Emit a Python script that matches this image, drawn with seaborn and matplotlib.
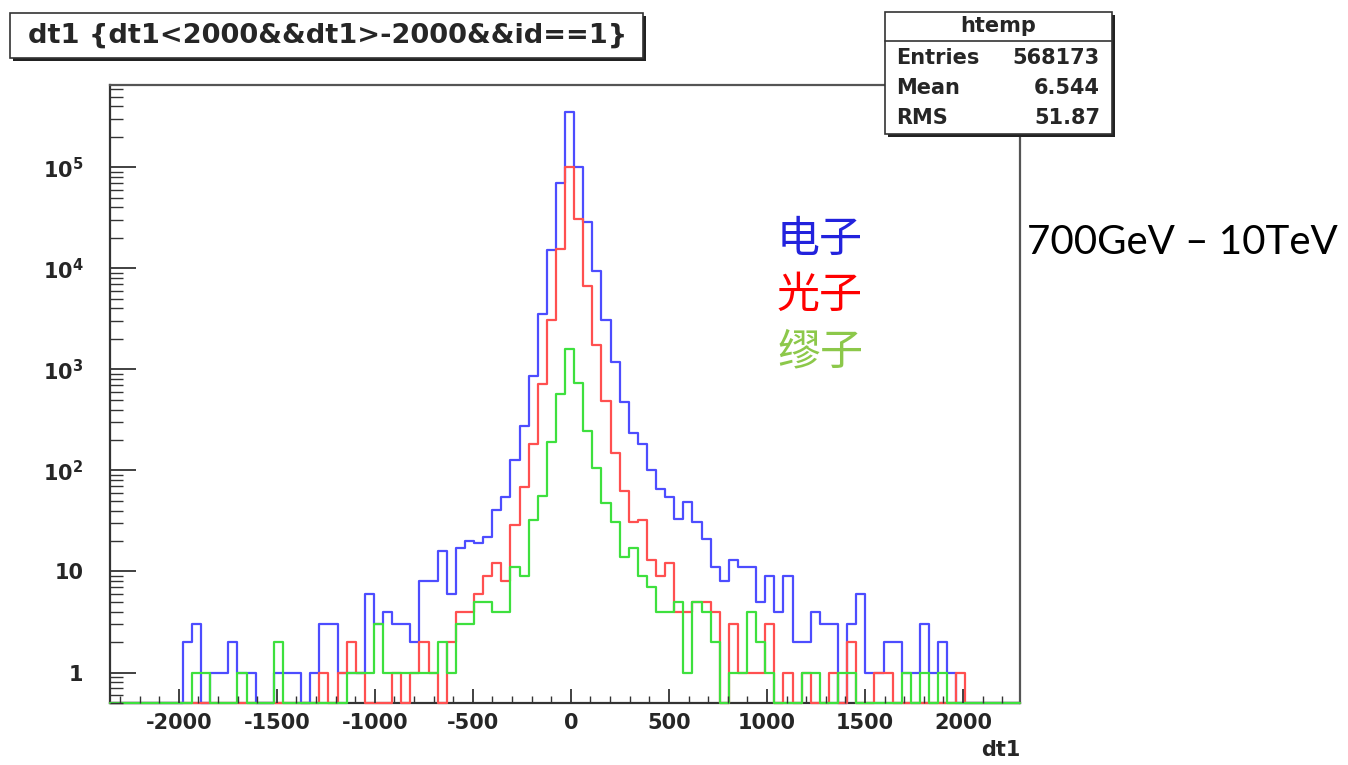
import numpy as np
import pandas as pd
import matplotlib
matplotlib.use("Agg")
import matplotlib.pyplot as plt
from matplotlib.patches import Rectangle
from matplotlib.ticker import FixedLocator, MultipleLocator, NullFormatter
import seaborn as sns

# histogram binning (htemp: 100 bins)
X_MIN, X_MAX, N_BINS = -2351.0, 2291.0, 100
Y_MIN, Y_MAX = 0.5, 6.5e5

# counts per bin (bins 0..99)
electron = [
    0, 0, 0, 0, 0, 0, 0, 0, 2, 3,
    0, 1, 1, 2, 1, 1, 0, 0, 1, 1,
    1, 0, 1, 3, 3, 1, 1, 1, 6, 3,
    4, 3, 3, 2, 8, 8, 16, 6, 17, 20,
    19, 22, 41, 55, 127, 276, 850, 3550, 15000, 69000,
    348000, 100000, 28800, 9300, 3050, 1170, 470, 237, 182, 100,
    66, 54, 33, 49, 31, 21, 11, 8, 13, 11,
    11, 5, 9, 4, 9, 2, 2, 4, 3, 3,
    0, 3, 6, 1, 1, 2, 2, 1, 1, 3,
    1, 2, 1, 0, 0, 0, 0, 0, 0, 0,
]
photon = [
    0, 0, 0, 0, 0, 0, 0, 0, 0, 0,
    0, 0, 0, 0, 0, 0, 0, 0, 0, 0,
    0, 0, 0, 1, 0, 1, 2, 1, 0, 0,
    0, 1, 0, 1, 2, 1, 0, 2, 4, 4,
    6, 9, 12, 8, 29, 68, 181, 715, 3050, 15500,
    101000, 30500, 6700, 1750, 490, 150, 62, 31, 32, 13,
    9, 12, 4, 4, 5, 5, 4, 0, 3, 1,
    1, 1, 3, 0, 1, 0, 1, 0, 0, 1,
    0, 2, 0, 0, 1, 1, 0, 0, 0, 0,
    0, 0, 0, 1, 0, 0, 0, 0, 0, 0,
]
muon = [
    0, 0, 0, 0, 0, 0, 0, 0, 0, 1,
    1, 0, 0, 0, 1, 0, 0, 0, 2, 0,
    0, 0, 0, 0, 0, 0, 1, 1, 1, 3,
    1, 1, 1, 1, 1, 1, 2, 1, 3, 3,
    5, 5, 4, 4, 11, 9, 32, 56, 190, 569,
    1600, 731, 248, 105, 48, 31, 14, 17, 9, 7,
    4, 4, 5, 1, 5, 4, 2, 0, 1, 1,
    4, 2, 1, 0, 0, 0, 1, 1, 0, 0,
    1, 1, 0, 0, 0, 0, 0, 1, 0, 1,
    0, 1, 0, 0, 0, 0, 0, 0, 0, 0,
]

particles = ["电子", "光子", "缪子"]
line_colors = {"电子": "#4d4dff", "光子": "#ff5050", "缪子": "#3ee03e"}
text_colors = {"电子": "#2222dd", "光子": "#ff0000", "缪子": "#8cc84a"}

x_major = [-2000, -1500, -1000, -500, 0, 500, 1000, 1500, 2000]
y_major = [1, 10, 100, 1e3, 1e4, 1e5]
y_labels = ["1", "10", r"$\mathbf{10^{2}}$", r"$\mathbf{10^{3}}$",
            r"$\mathbf{10^{4}}$", r"$\mathbf{10^{5}}$"]

title_text = "dt1 {dt1<2000&&dt1>-2000&&id==1}"
stats_rows = [("Entries", "568173"), ("Mean", "6.544"), ("RMS", "51.87")]
energy_text = "700GeV – 10TeV"

edges = np.linspace(X_MIN, X_MAX, N_BINS + 1)
centers = 0.5 * (edges[:-1] + edges[1:])
df = pd.concat([
    pd.DataFrame({"dt1": centers, "n": vals, "particle": name})
    for name, vals in zip(particles, [electron, photon, muon])
], ignore_index=True)
# empty bins sit on the frame bottom, as ROOT draws them on a log axis
df["w"] = df["n"].clip(lower=Y_MIN)

sns.set_style("white")
plt.rcParams["font.family"] = ["DejaVu Sans", "Noto Sans CJK SC"]

W, H = 1348, 765
fig = plt.figure(figsize=(W / 100, H / 100), dpi=100)
ax = fig.add_axes([110 / W, 1 - 703 / H, (1020 - 110) / W, (703 - 85) / H])
ax.set_axisbelow(False)

# seaborn draws the last hue level on top -> green over red over blue
sns.histplot(data=df, x="dt1", weights="w", hue="particle",
             hue_order=["缪子", "光子", "电子"], palette=line_colors,
             bins=N_BINS, binrange=(X_MIN, X_MAX), element="step",
             fill=False, linewidth=1.6, legend=False, ax=ax)
for ln in ax.lines:
    ln.set_clip_on(False)

ax.set_yscale("log")
ax.set_xlim(X_MIN, X_MAX)
ax.set_ylim(Y_MIN, Y_MAX)
ax.set_ylabel("")
ax.set_xlabel("")

ax.xaxis.set_major_locator(FixedLocator(x_major))
ax.xaxis.set_minor_locator(MultipleLocator(100))
ax.set_xticklabels([str(v) for v in x_major], fontsize=15, fontweight="bold")
ax.yaxis.set_major_locator(FixedLocator(y_major))
minors = [m * 10.0 ** e for e in range(-1, 6) for m in range(2, 10)]
ax.yaxis.set_minor_locator(FixedLocator(minors))
ax.yaxis.set_minor_formatter(NullFormatter())
ax.set_yticklabels(y_labels, fontsize=15, fontweight="bold")

ax.tick_params(axis="x", which="major", direction="in", length=10, width=1.3,
               color="#333333", pad=7, bottom=True, top=False)
ax.tick_params(axis="x", which="minor", direction="in", length=5, width=1.0,
               color="#333333", bottom=True, top=False)
ax.tick_params(axis="y", which="major", direction="in", length=19, width=1.3,
               color="#333333", pad=19, left=True, right=False)
ax.tick_params(axis="y", which="minor", direction="in", length=9, width=1.0,
               color="#333333", left=True, right=False)
for s in ax.spines.values():
    s.set_color("#555555")
    s.set_linewidth(1.6)
    s.set_zorder(1)
ax.spines["bottom"].set_color("#333333")
ax.spines["left"].set_color("#333333")

fig.text(1020 / W, 1 - 750 / H, "dt1", ha="right", va="center",
         fontsize=15, fontweight="bold")


def px_box(x0, y0, x1, y1, shadow=3):
    fig.patches.append(Rectangle((x0 / W + shadow / W, 1 - y1 / H - shadow / H),
                                 (x1 - x0) / W, (y1 - y0) / H,
                                 transform=fig.transFigure, facecolor="#222222",
                                 edgecolor="none", zorder=5))
    fig.patches.append(Rectangle((x0 / W, 1 - y1 / H), (x1 - x0) / W, (y1 - y0) / H,
                                 transform=fig.transFigure, facecolor="white",
                                 edgecolor="#333333", linewidth=1.2, zorder=6))


# title box
px_box(10, 13, 643, 58)
fig.text(328 / W, 1 - 36 / H, title_text, ha="center", va="center",
         fontsize=19.6, fontweight="bold", zorder=7)

# stats box
px_box(885, 12, 1112, 134)
fig.add_artist(plt.Line2D([885 / W, 1112 / W], [1 - 41 / H, 1 - 41 / H],
                          color="#333333", linewidth=1.2, zorder=7))
fig.text(998 / W, 1 - 26 / H, "htemp", ha="center", va="center",
         fontsize=15, fontweight="bold", zorder=7)
for i, (name, val) in enumerate(stats_rows):
    yy = 1 - (58 + i * 30) / H
    fig.text(896 / W, yy, name, ha="left", va="center",
             fontsize=15, fontweight="bold", zorder=7)
    fig.text(1100 / W, yy, val, ha="right", va="center",
             fontsize=15, fontweight="bold", zorder=7)

# particle labels
for i, name in enumerate(particles):
    fig.text(777 / W, 1 - (240 + i * 56) / H, name, ha="left", va="center",
             fontsize=31, color=text_colors[name], family=["Noto Sans CJK SC"])

fig.text(1027 / W, 1 - 243 / H, energy_text, ha="left", va="center",
         fontsize=29, family=["Lato", "DejaVu Sans"], color="black")

fig.savefig("out.png", dpi=100)
